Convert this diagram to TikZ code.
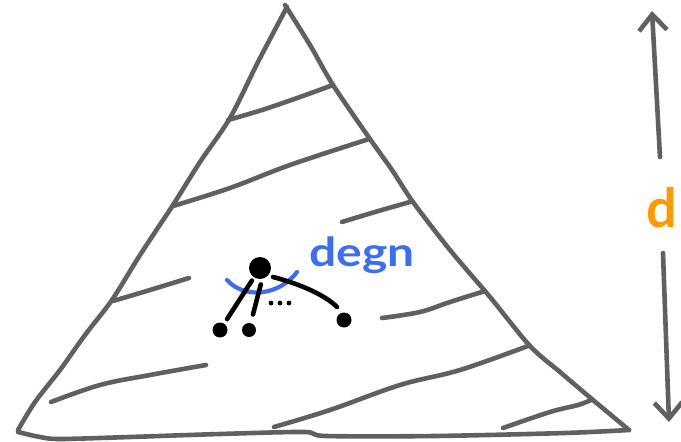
\documentclass[tikz,border=0pt]{standalone}
\usepackage{fontspec}
\usepackage{graphicx}
\setmainfont{Lato}
\usetikzlibrary{arrows.meta}
\definecolor{pen}{HTML}{606060}
\definecolor{bluepen}{HTML}{3D6DF2}
\definecolor{orangepen}{HTML}{FF9900}
\tikzset{
  greyline/.style={draw=pen, line width=4.6pt, line cap=round, line join=round},
  inkline/.style={draw=black, line width=4.6pt, line cap=round, line join=round},
  blueline/.style={draw=bluepen, line width=4.2pt, line cap=round, line join=round},
  dotnode/.style={circle, fill=black, inner sep=0pt},
  arrowline/.style={greyline, -{Straight Barb[length=16pt,width=28pt]}},
}
\begin{document}
\begin{tikzpicture}[x=1pt,y=-1pt]
\useasboundingbox (0,0) rectangle (681,442);
% triangle
\draw[greyline] plot[smooth, tension=0.5] coordinates {(287,7) (258,62) (230,118) (200,162) (173,205) (140,255) (112,300) (85,335) (60,370) (35,402) (18,430)};
\draw[greyline] plot[smooth, tension=0.5] coordinates {(285,5) (310,45) (333,85) (370,139) (392,170) (413,202) (450,250) (490,297) (530,346) (560,372) (593,400) (629,430)};
\draw[greyline] plot[smooth, tension=0.5] coordinates {(18,432) (40,437) (60,439) (130,437) (220,434) (304,432) (326,436) (435,436) (565,433) (629,430)};
% stripes
\draw[greyline] plot[smooth, tension=0.6] coordinates {(228,120) (262,110) (300,97) (333,85)};
\draw[greyline] plot[smooth, tension=0.6] coordinates {(173,206) (230,188) (290,165) (369,139)};
\draw[greyline] plot[smooth, tension=0.6] coordinates {(342,222) (375,212) (410,202)};
\draw[greyline] plot[smooth, tension=0.6] coordinates {(113,301) (150,290) (189,278)};
\draw[greyline] plot[smooth, tension=0.6] coordinates {(382,318) (420,312) (450,302) (485,291)};
\draw[greyline] plot[smooth, tension=0.6] coordinates {(51,402) (100,385) (150,375) (206,365)};
\draw[greyline] plot[smooth, tension=0.6] coordinates {(274,427) (330,410) (400,385) (460,370) (528,346)};
\draw[greyline] plot[smooth, tension=0.6] coordinates {(503,428) (550,412) (578,405) (591,400)};
% depth arrow
\node[inner sep=0pt, text=orangepen, font=\bfseries\fontsize{54}{54}\selectfont] (dlab) at (662,208) {d};
\coordinate (utail) at (660,157);
\coordinate (utip) at (652,11);
\coordinate (ltail) at (663,253);
\coordinate (ltip) at (669,422);
\draw[arrowline] (utail) -- (utip);
\draw[arrowline] (ltail) -- (ltip);
% tree
\node[dotnode, minimum size=22pt] (root) at (260,268) {};
\node[dotnode, minimum size=15pt] (c1) at (220,330) {};
\node[dotnode, minimum size=14pt] (c2) at (249,330) {};
\node[dotnode, minimum size=15pt] (c3) at (344,320) {};
\draw[blueline] (227,280) .. controls (245,300) and (280,295) .. (297,272);
\draw[inkline, shorten <=15pt, shorten >=13pt] (root.center) -- (c1.center);
\draw[inkline, shorten <=17pt, shorten >=16pt] ([xshift=5pt]root.center) -- (c2.center);
\draw[inkline] ([shift={(13,9)}]root.center) .. controls (300,284) and (325,295) .. ([shift={(-7,-13)}]c3.center);
\fill (271,303) circle (2.4pt) (280,303) circle (2.4pt) (289,303) circle (2.4pt);
\node[anchor=base west, inner sep=0pt, text=bluepen, font=\bfseries\fontsize{40}{40}\selectfont] (degn) at (309,266) {\scalebox{1.2}[1]{degn}};
\end{tikzpicture}
\end{document}
